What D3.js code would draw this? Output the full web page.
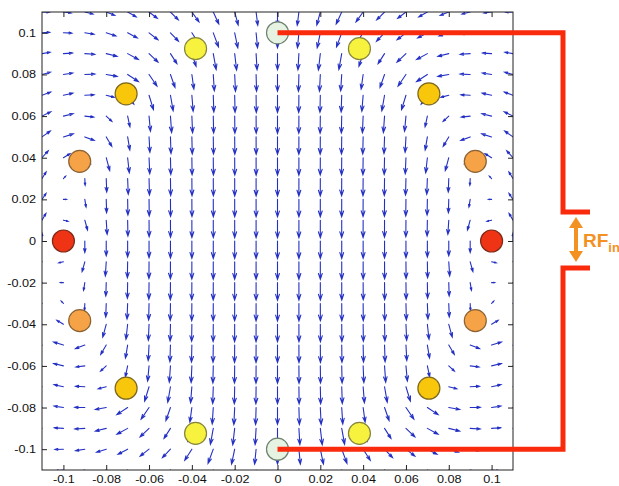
<!DOCTYPE html>
<html>
<head>
<meta charset="utf-8">
<script src="https://cdn.jsdelivr.net/npm/d3@7/dist/d3.min.js"></script>
<style>
  body { margin: 0; background: #ffffff; }
  svg { display: block; font-family: "Liberation Sans", Arial, sans-serif; }
</style>
</head>
<body>
<svg id="chart" width="619" height="486"></svg>
<script>
// Quiver sampling grid (m)
const gridX = [-0.11, -0.10, -0.09, -0.08, -0.07, -0.06, -0.05, -0.04, -0.03, -0.02, -0.01, 0,
               0.01, 0.02, 0.03, 0.04, 0.05, 0.06, 0.07, 0.08, 0.09, 0.10, 0.11];
const gridY = [-0.11, -0.10, -0.09, -0.08, -0.07, -0.06, -0.05, -0.04, -0.03, -0.02, -0.01, 0,
               0.01, 0.02, 0.03, 0.04, 0.05, 0.06, 0.07, 0.08, 0.09, 0.10, 0.11];

// 16-rung birdcage: rung angle (deg) on a 0.1 m radius and relative rung current
const rungRadius = 0.1;
const rungAngle = [0, 22.5, 45, 67.5, 90, 112.5, 135, 157.5, 180, 202.5, 225, 247.5, 270, 292.5, 315, 337.5];
const rungCurrent = [1, 0.92, 0.71, 0.38, 0, -0.38, -0.71, -0.92, -1, -0.92, -0.71, -0.38, 0, 0.38, 0.71, 0.92];

// Axis ticks
const xTicks = [-0.1, -0.08, -0.06, -0.04, -0.02, 0, 0.02, 0.04, 0.06, 0.08, 0.1];
const xTickLabels = ["-0.1", "-0.08", "-0.06", "-0.04", "-0.02", "0", "0.02", "0.04", "0.06", "0.08", "0.1"];
const yTicks = [-0.1, -0.08, -0.06, -0.04, -0.02, 0, 0.02, 0.04, 0.06, 0.08, 0.1];
const yTickLabels = ["-0.1", "-0.08", "-0.06", "-0.04", "-0.02", "0", "0.02", "0.04", "0.06", "0.08", "0.1"];

// Feed label
const feedLabel = "RF";
const feedSub = "in";

// ---- styles ----
const arrowColor = "#2430c4";
const rungFill = { "1": "#ee3414", "0.92": "#f6a246", "0.71": "#f8c70c", "0.38": "#f6f23e", "0": "#e6f3e3" };
const rungStroke = { "1": "#7e2a18", "0.92": "#8a6234", "0.71": "#7c6820", "0.38": "#86843c", "0": "#6e8270" };
const feedRed = "#fa2a0c";
const feedOrange = "#f39123";

const svg = d3.select("#chart");
const plot = { left: 42, right: 513, top: 12, bottom: 470 };

const x = d3.scaleLinear().domain([-0.11, 0.11]).range([plot.left, plot.right]);
const y = d3.scaleLinear().domain([-0.11, 0.11]).range([plot.bottom, plot.top]);

// Rung positions
const rungs = rungAngle.map((a, i) => {
  const t = a * Math.PI / 180;
  return { x: rungRadius * Math.cos(t), y: rungRadius * Math.sin(t), I: rungCurrent[i] };
});

// Magnetic field of the rung currents (2-D conductors of finite width: softened core)
const core = 0.015;
function field(px, py) {
  let bx = 0, by = 0;
  for (const r of rungs) {
    const dx = px - r.x, dy = py - r.y;
    const d2 = dx * dx + dy * dy + core * core;
    bx += r.I * (-dy) / d2;
    by += r.I * dx / d2;
  }
  return [bx, by];
}

const b0 = Math.hypot(...field(0, 0));
const unitLen = 17.5;   // px length of the central field
const maxLen = 26;      // px cap on arrow length

const arrows = [];
for (const gx of gridX) {
  for (const gy of gridY) {
    const [bx, by] = field(gx, gy);
    const mag = Math.hypot(bx, by);
    if (mag === 0) continue;
    const len = Math.min(mag / b0 * unitLen, maxLen);
    const ux = bx / mag * len, uy = -by / mag * len;
    arrows.push({ x0: x(gx), y0: y(gy), u: ux, v: uy });
  }
}

svg.append("defs").append("clipPath").attr("id", "plotClip")
  .append("rect")
  .attr("x", plot.left).attr("y", plot.top)
  .attr("width", plot.right - plot.left).attr("height", plot.bottom - plot.top);

// Quiver arrows (shaft + open head)
const alpha = 0.33, beta = 0.33;
svg.append("g").attr("clip-path", "url(#plotClip)")
  .selectAll("path").data(arrows).join("path")
  .attr("d", d => {
    const tx = d.x0 + d.u, ty = d.y0 + d.v;
    const h1x = tx - alpha * (d.u + beta * d.v), h1y = ty - alpha * (d.v - beta * d.u);
    const h2x = tx - alpha * (d.u - beta * d.v), h2y = ty - alpha * (d.v + beta * d.u);
    return `M${d.x0},${d.y0}L${tx},${ty}M${h1x},${h1y}L${tx},${ty}L${h2x},${h2y}`;
  })
  .attr("fill", "none")
  .attr("stroke", arrowColor)
  .attr("stroke-width", 1.1)
  .attr("stroke-linecap", "round");

// Axes box with inward ticks
const axisColor = "#222";
const stretch = 1.15;

const gx = svg.append("g").attr("transform", `translate(0,${plot.bottom})`)
  .call(d3.axisBottom(x).tickValues(xTicks).tickFormat((d, i) => xTickLabels[i])
        .tickSizeInner(-5).tickSizeOuter(0).tickPadding(5));
const gxTop = svg.append("g").attr("transform", `translate(0,${plot.top})`)
  .call(d3.axisTop(x).tickValues(xTicks).tickFormat("").tickSizeInner(-5).tickSizeOuter(0));
const gy = svg.append("g").attr("transform", `translate(${plot.left},0)`)
  .call(d3.axisLeft(y).tickValues(yTicks).tickFormat((d, i) => yTickLabels[i])
        .tickSizeInner(-5).tickSizeOuter(0).tickPadding(6));
const gyRight = svg.append("g").attr("transform", `translate(${plot.right},0)`)
  .call(d3.axisRight(y).tickValues(yTicks).tickFormat("").tickSizeInner(-5).tickSizeOuter(0));

[gx, gxTop, gy, gyRight].forEach(g => {
  g.select(".domain").remove();
  g.selectAll("line").attr("stroke", axisColor);
});
gx.selectAll("text").attr("font-size", 11).attr("fill", "#111")
  .attr("font-family", "'Liberation Sans', Arial, sans-serif")
  .attr("transform", `scale(${stretch},1)`);
gy.selectAll("text").attr("font-size", 11).attr("fill", "#111")
  .attr("font-family", "'Liberation Sans', Arial, sans-serif")
  .attr("x", -6 / stretch)
  .attr("transform", `scale(${stretch},1)`);

svg.append("rect")
  .attr("x", plot.left).attr("y", plot.top)
  .attr("width", plot.right - plot.left).attr("height", plot.bottom - plot.top)
  .attr("fill", "none").attr("stroke", axisColor).attr("stroke-width", 1);

// Rung conductors
const levelKey = I => String(Math.abs(I));
svg.append("g").selectAll("circle").data(rungs).join("circle")
  .attr("cx", d => x(d.x)).attr("cy", d => y(d.y))
  .attr("r", 11)
  .attr("fill", d => rungFill[levelKey(d.I)])
  .attr("stroke", d => rungStroke[levelKey(d.I)])
  .attr("stroke-width", 1.2);

// Feed lines from the top and bottom rungs to the RF port
const topRung = rungs[4], botRung = rungs[12];
const busX = 563, stubEnd = 590, portTop = 212, portBot = 268;
svg.append("path")
  .attr("d", `M${x(topRung.x)},${y(topRung.y)}H${busX}V${portTop}H${stubEnd}`)
  .attr("fill", "none").attr("stroke", feedRed).attr("stroke-width", 5)
  .attr("stroke-linejoin", "miter");
svg.append("path")
  .attr("d", `M${x(botRung.x)},${y(botRung.y)}H${busX}V${portBot}H${stubEnd}`)
  .attr("fill", "none").attr("stroke", feedRed).attr("stroke-width", 5)
  .attr("stroke-linejoin", "miter");

// Double-headed port arrow
const ax = 576, aTop = 217, aBot = 262, headH = 11, headW = 7;
svg.append("line")
  .attr("x1", ax).attr("x2", ax).attr("y1", aTop + headH - 1).attr("y2", aBot - headH + 1)
  .attr("stroke", feedOrange).attr("stroke-width", 4);
svg.append("path")
  .attr("d", `M${ax},${aTop}L${ax + headW},${aTop + headH}L${ax - headW},${aTop + headH}Z` +
             `M${ax},${aBot}L${ax + headW},${aBot - headH}L${ax - headW},${aBot - headH}Z`)
  .attr("fill", feedOrange);

const lbl = svg.append("text")
  .attr("x", 583).attr("y", 247)
  .attr("fill", feedOrange)
  .attr("font-family", "'Liberation Sans', Arial, sans-serif")
  .attr("font-weight", "bold")
  .attr("font-size", 19);
lbl.append("tspan").text(feedLabel);
lbl.append("tspan").attr("font-size", 13).attr("dy", 5).text(feedSub);
</script>
</body>
</html>
